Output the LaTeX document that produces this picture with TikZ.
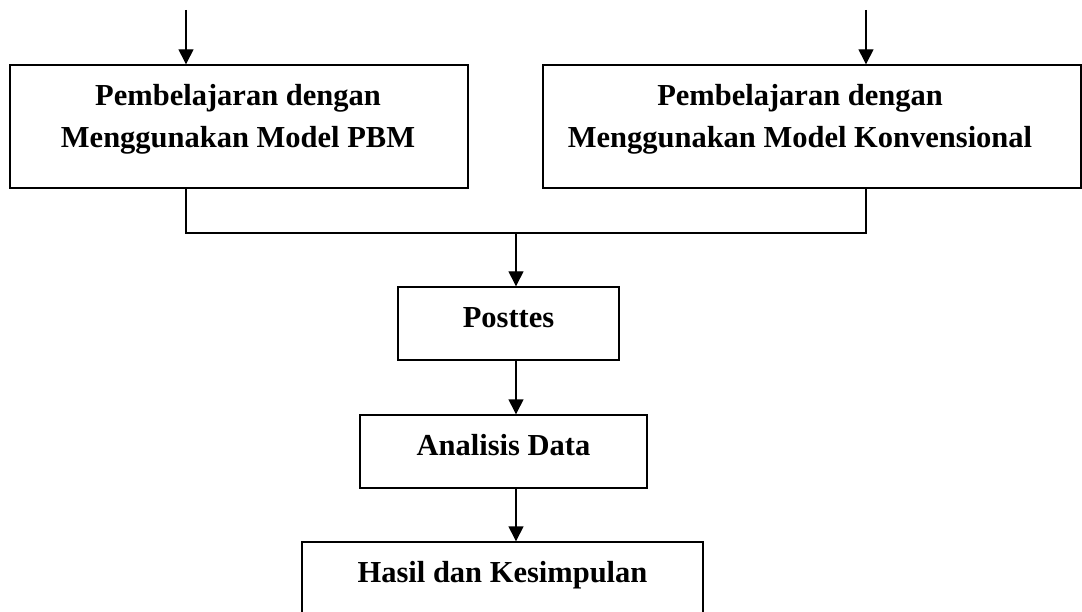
\documentclass[tikz,border=0pt]{standalone}
\usepackage{fontspec}
\setmainfont{Liberation Serif}
\usetikzlibrary{arrows.meta}
\begin{document}
\begin{tikzpicture}[x=1pt,y=-1pt,
  box/.style={draw, line width=1.4pt, rectangle, inner sep=0pt},
  lbl/.style={font=\fontsize{30.5}{42}\selectfont\bfseries, align=center, inner sep=0pt},
  conn/.style={line width=1.4pt},
  arr/.style={line width=1.4pt, -{Triangle[length=15pt,width=15pt]}}]
\clip (0,0) rectangle (1082,612);
\fill[white] (0,0) rectangle (1082,612);
% boxes
\node[box, minimum width=458pt, minimum height=123pt] (b1) at (239,126.5) {};
\node[box, minimum width=538pt, minimum height=123pt] (b2) at (812,126.5) {};
\node[box, minimum width=221pt, minimum height=73pt] (post) at (508.5,323.5) {};
\node[box, minimum width=287pt, minimum height=73pt] (ana) at (503.5,451.5) {};
\node[box, minimum width=401pt, minimum height=83pt] (has) at (502.5,583.5) {};
% labels
\node[lbl, anchor=base] (t1) at (238,148) {Pembelajaran dengan\\Menggunakan Model PBM};
\node[lbl, anchor=base] (t2) at (800,148) {Pembelajaran dengan\\Menggunakan Model Konvensional};
\node[lbl, anchor=base] (t3) at (508.5,328) {Posttes};
\node[lbl, anchor=base] (t4) at (503.5,455) {Analisis Data};
\node[lbl, anchor=base] (t5) at (502.5,582) {Hasil dan Kesimpulan};
% connectors
\coordinate (s1) at (186,10);
\coordinate (s2) at (866,10);
\coordinate (j1) at (186,233);
\coordinate (j2) at (866,233);
\coordinate (jm) at (516,233);
\draw[arr] (s1) -- (s1 |- b1.north);
\draw[arr] (s2) -- (s2 |- b2.north);
\draw[conn] (j1 |- b1.south) -- (j1) -- (j2) -- (j2 |- b2.south);
\draw[arr] (jm) -- (jm |- post.north);
\draw[arr] (jm |- post.south) -- (jm |- ana.north);
\draw[arr] (jm |- ana.south) -- (jm |- has.north);
\end{tikzpicture}
\end{document}
